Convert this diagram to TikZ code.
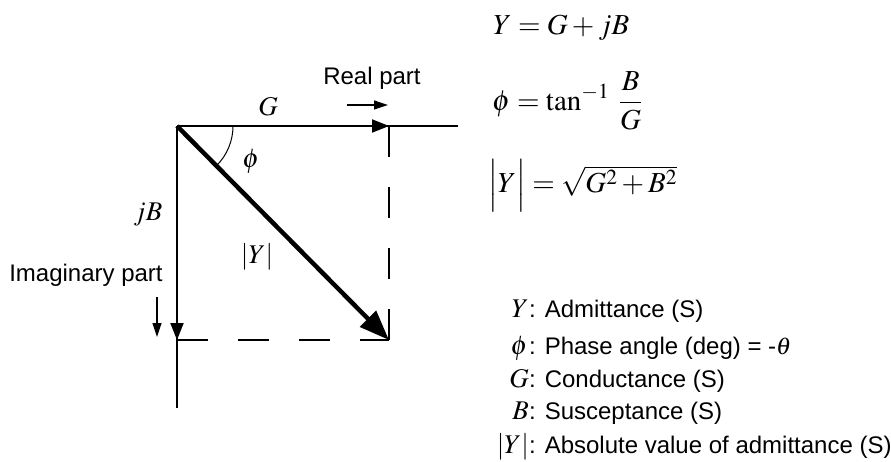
\documentclass[tikz,border=0pt]{standalone}
\usepackage{mathptmx}
\usepackage[no-math]{fontspec}
\setmainfont{Liberation Serif}
\setsansfont{Liberation Sans}
\usetikzlibrary{arrows.meta}
\begin{document}
\begin{tikzpicture}[x=1pt,y=-1pt,
  lbl/.style={inner sep=0pt, font=\fontsize{24}{28}\selectfont\sffamily},
  mth/.style={inner sep=0pt, font=\fontsize{27}{32}\selectfont},
  eqn/.style={inner sep=0pt, font=\fontsize{29}{34}\selectfont},
  axisline/.style={line width=2pt},
  dsh/.style={line width=2pt, dash pattern=on 31pt off 30pt},
  bigtip/.style={-{Triangle[length=17pt,width=13pt]}},
  smalltip/.style={line width=1.2pt,-{Triangle[length=14pt,width=9pt]}}]
\useasboundingbox (0,0) rectangle (891,462);
% key points
\coordinate (O) at (177,126);
\coordinate (Gx) at (389,126);
\coordinate (Bx) at (177,340);
\coordinate (P) at (389,340);
\coordinate (Xend) at (458,126);
\coordinate (Yend) at (177,408);
\coordinate (ArcS) at (233,126);
\coordinate (RA1) at (347,105);
\coordinate (RA2) at (388,105);
\coordinate (IA1) at (157,297);
\coordinate (IA2) at (157,337);
% axes
\draw[axisline] (O) -- (Xend);
\draw[axisline, bigtip] (O) -- (Gx);
\draw[axisline] (O) -- (Yend);
\draw[axisline, bigtip] (O) -- (Bx);
% dashed projections
\draw[dsh] (Gx) -- (P);
\draw[dsh] (Bx) -- (P);
% vector
\draw[line width=4.5pt, -{Triangle[length=30pt,width=22pt]}] (O) -- (P);
% angle arc
\draw[line width=1pt] (ArcS) arc[start angle=0, end angle=-45, radius=56pt];
% small direction arrows
\draw[smalltip] (RA1) -- (RA2);
\draw[smalltip] (IA1) -- (IA2);
% labels
\node[lbl] (real) at (372,78) {Real part};
\node[lbl] (imag) at (86,275) {Imaginary part};
\node[mth] (Glbl) at (268,107) {$G$};
\node[mth] (philbl) at (251,161) {$\phi$};
\node[mth] (jBlbl) at (148,215) {$jB$};
\node[mth] (Ylbl) at (257,257) {$|Y|$};
% equations
\node[eqn, anchor=base west] (eq1) at (493,35) {$Y = G + jB$};
\node[eqn, anchor=west] (eq2) at (492,101) {$\displaystyle \phi = \tan^{-1}\;\frac{B}{G}$};
\node[eqn, anchor=base west] (eq3) at (488,193) {$\left|\vphantom{\sqrt{G^2}}Y\right| = \sqrt{G^2 + B^2}$};
% legend
\node[mth, anchor=base east] (s1) at (529,317) {$Y$};
\node[lbl, anchor=base west] (t1) at (529,317) {: Admittance (S)};
\node[mth, anchor=base east] (s2) at (528,354) {$\phi$};
\node[lbl, anchor=base west] (t2) at (529,354) {: Phase angle (deg) = -$\theta$};
\node[mth, anchor=base east] (s3) at (529,387) {$G$};
\node[lbl, anchor=base west] (t3) at (529,387) {: Conductance (S)};
\node[mth, anchor=base east] (s4) at (529,419) {$B$};
\node[lbl, anchor=base west] (t4) at (529,419) {: Susceptance (S)};
\node[mth, anchor=base east] (s5) at (529,453) {$|Y|$};
\node[lbl, anchor=base west] (t5) at (529,453) {: Absolute value of admittance (S)};
\end{tikzpicture}
\end{document}
